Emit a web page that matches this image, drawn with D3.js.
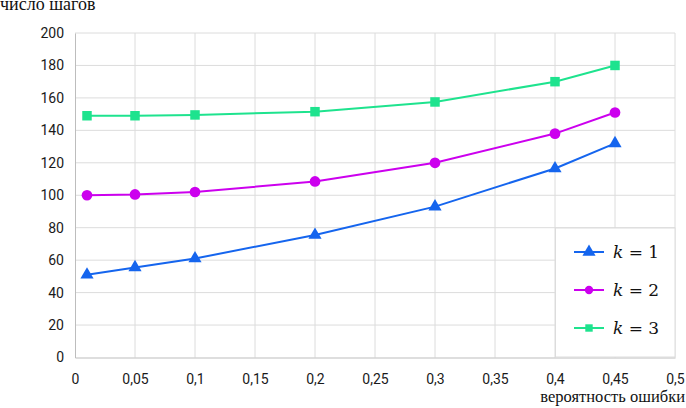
<!DOCTYPE html>
<html>
<head>
<meta charset="utf-8">
<script src="https://cdn.jsdelivr.net/npm/d3@7"></script>
<style>
  body { margin: 0; background: #fff; }
  svg { display: block; }
</style>
</head>
<body>
<div id="chart"></div>
<script>
// probabilities on the x axis
const errorProb = [0.01, 0.05, 0.1, 0.2, 0.3, 0.4, 0.45];

// number of steps for each k
const stepsK1 = [51, 55.5, 61, 75.5, 93, 116.5, 132];
const stepsK2 = [100, 100.5, 102, 108.5, 120, 138, 151];
const stepsK3 = [149, 149, 149.5, 151.5, 157.5, 170, 180];

const seriesNames = ["1", "2", "3"];
const seriesColors = ["#1565ee", "#cc00ee", "#1ee38e"];
const seriesSymbols = [d3.symbolTriangle, d3.symbolCircle, d3.symbolSquare];

const xTicks = [0, 0.05, 0.1, 0.15, 0.2, 0.25, 0.3, 0.35, 0.4, 0.45, 0.5];
const yTicks = [0, 20, 40, 60, 80, 100, 120, 140, 160, 180, 200];

const width = 686, height = 408;
const margin = { top: 33, right: 11, bottom: 50.5, left: 75 };

const svg = d3.select("#chart")
    .append("svg")
    .attr("width", width)
    .attr("height", height);

const x = d3.scaleLinear()
    .domain([0, 0.5])
    .range([margin.left, width - margin.right]);

const y = d3.scaleLinear()
    .domain([0, 200])
    .range([height - margin.bottom, margin.top]);

const fmt = d => String(d).replace(".", ",");

// grid
svg.append("g")
    .selectAll("line")
    .data(yTicks.slice(1))
    .enter()
    .append("line")
    .attr("x1", x(0)).attr("x2", x(0.5))
    .attr("y1", d => y(d)).attr("y2", d => y(d))
    .attr("stroke", "#dcdcdc")
    .attr("stroke-width", 1);

svg.append("g")
    .selectAll("line")
    .data(xTicks.slice(1))
    .enter()
    .append("line")
    .attr("x1", d => x(d)).attr("x2", d => x(d))
    .attr("y1", y(0)).attr("y2", y(200))
    .attr("stroke", "#dcdcdc")
    .attr("stroke-width", 1);

// axes
const xAxis = svg.append("g")
    .attr("transform", `translate(0, ${y(0)})`)
    .call(d3.axisBottom(x).tickValues(xTicks).tickFormat(fmt).tickSize(0).tickPadding(17));
xAxis.select(".domain").attr("stroke", "#bdbdbd");

const yAxis = svg.append("g")
    .attr("transform", `translate(${x(0)}, 0)`)
    .call(d3.axisLeft(y).tickValues(yTicks).tickSize(0).tickPadding(11));
yAxis.select(".domain").attr("stroke", "#bdbdbd");

svg.selectAll(".tick text")
    .attr("font-family", "Roboto, sans-serif")
    .attr("font-size", 14)
    .attr("fill", "#1a1a1a");

// series
const allSteps = [stepsK1, stepsK2, stepsK3];
const line = d3.line()
    .x(d => x(d[0]))
    .y(d => y(d[1]));

allSteps.forEach((vals, i) => {
    const pts = errorProb.map((p, j) => [p, vals[j]]);
    svg.append("path")
        .datum(pts)
        .attr("d", line)
        .attr("fill", "none")
        .attr("stroke", seriesColors[i])
        .attr("stroke-width", 2);

    svg.append("g")
        .selectAll("path")
        .data(pts)
        .enter()
        .append("path")
        .attr("transform", d => `translate(${x(d[0])}, ${y(d[1])})`)
        .attr("d", d3.symbol().type(seriesSymbols[i]).size(i === 0 ? 75 : 90))
        .attr("fill", seriesColors[i]);
});

// legend
const legend = svg.append("g");
legend.append("rect")
    .attr("x", x(0.4) + 0.5)
    .attr("y", 228)
    .attr("width", x(0.5) - x(0.4) - 0.5)
    .attr("height", y(0) - 228 - 0.5)
    .attr("fill", "#fff")
    .attr("stroke", "#dcdcdc");

seriesNames.forEach((name, i) => {
    const ly = 252 + i * 38;
    legend.append("line")
        .attr("x1", 574).attr("x2", 604)
        .attr("y1", ly).attr("y2", ly)
        .attr("stroke", seriesColors[i])
        .attr("stroke-width", 2);
    legend.append("path")
        .attr("transform", `translate(589, ${ly})`)
        .attr("d", d3.symbol().type(seriesSymbols[i]).size(i === 0 ? 75 : 55))
        .attr("fill", seriesColors[i]);
    const t = legend.append("text")
        .attr("x", 613)
        .attr("y", ly + 6)
        .attr("font-family", "'DejaVu Serif', serif")
        .attr("font-size", 17)
        .attr("fill", "#111");
    t.append("tspan").attr("font-style", "italic").text("k");
    t.append("tspan").text(" = " + name);
});

// axis titles
svg.append("text")
    .attr("x", 0)
    .attr("y", 10)
    .attr("font-family", "'Liberation Serif', 'DejaVu Serif', serif")
    .attr("font-size", 18)
    .attr("fill", "#111")
    .text("число шагов");

svg.append("text")
    .attr("x", 685)
    .attr("y", 402)
    .attr("text-anchor", "end")
    .attr("font-family", "'Liberation Serif', 'DejaVu Serif', serif")
    .attr("font-size", 16.5)
    .attr("fill", "#111")
    .text("вероятность ошибки");
</script>
</body>
</html>
